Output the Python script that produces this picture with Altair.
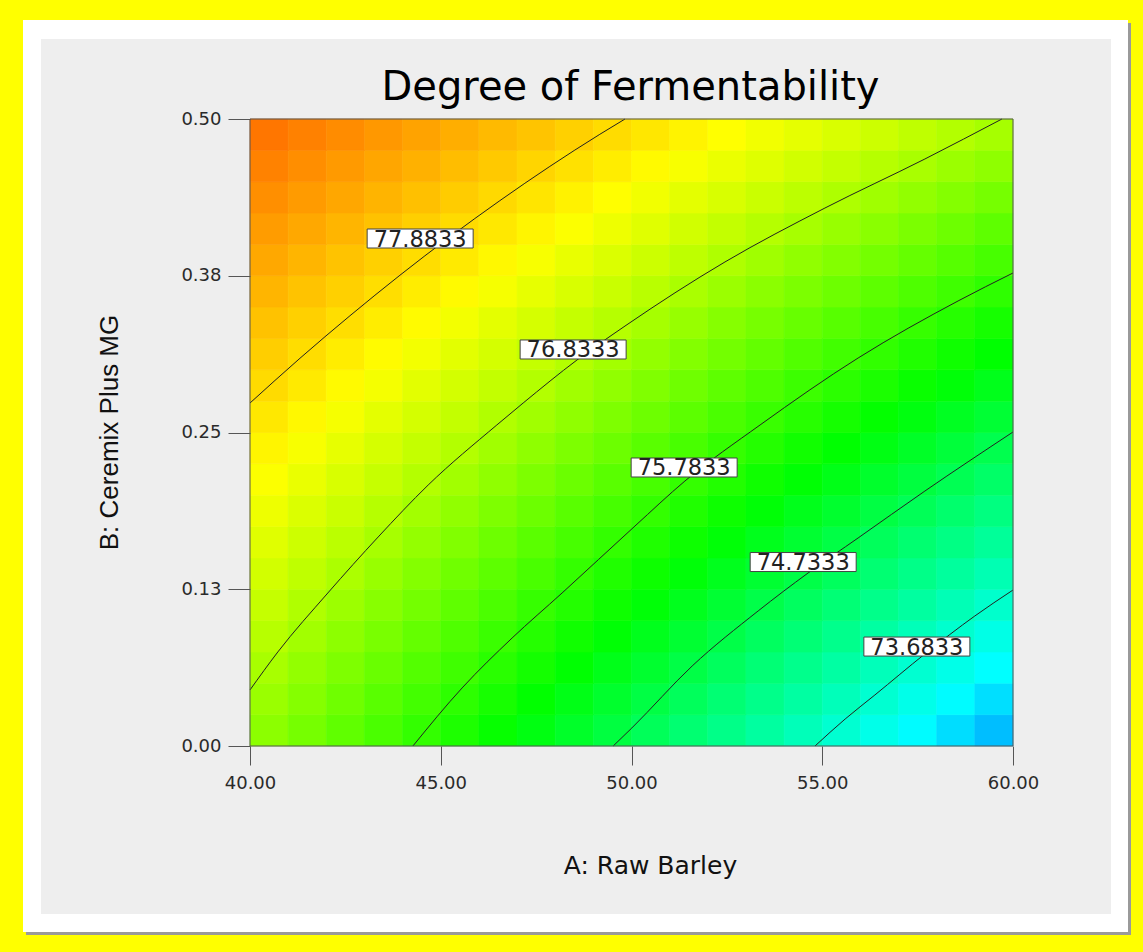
import altair as alt
import pandas as pd

TITLE = "Degree of Fermentability"
X_TITLE = "A: Raw Barley"
Y_TITLE = "B: Ceremix Plus MG"

A_TICKS = [40, 45, 50, 55, 60]
B_TICKS = [0.0, 0.125, 0.25, 0.375, 0.5]

# heat-map cell centres (A: Raw Barley, B: Ceremix Plus MG)
A_CENTERS = [40.5, 41.5, 42.5, 43.5, 44.5, 45.5, 46.5, 47.5, 48.5, 49.5,
             50.5, 51.5, 52.5, 53.5, 54.5, 55.5, 56.5, 57.5, 58.5, 59.5]
B_CENTERS = [0.0125, 0.0375, 0.0625, 0.0875, 0.1125, 0.1375, 0.1625, 0.1875, 0.2125, 0.2375,
             0.2625, 0.2875, 0.3125, 0.3375, 0.3625, 0.3875, 0.4125, 0.4375, 0.4625, 0.4875]
A_HALF = 0.5
B_HALF = 0.0125

# response values, one row per B centre (bottom to top)
GRID = [
    [76.56, 76.37, 76.18, 75.99, 75.79, 75.60, 75.40, 75.21, 75.01, 74.82, 74.62, 74.42, 74.23, 74.03, 73.83, 73.63, 73.43, 73.23, 73.03, 72.83],
    [76.68, 76.50, 76.31, 76.12, 75.93, 75.74, 75.55, 75.36, 75.17, 74.98, 74.79, 74.60, 74.40, 74.21, 74.02, 73.82, 73.63, 73.43, 73.23, 73.04],
    [76.80, 76.62, 76.44, 76.26, 76.07, 75.89, 75.70, 75.52, 75.33, 75.14, 74.96, 74.77, 74.58, 74.39, 74.20, 74.01, 73.82, 73.63, 73.44, 73.25],
    [76.93, 76.75, 76.57, 76.39, 76.21, 76.03, 75.85, 75.67, 75.49, 75.31, 75.12, 74.94, 74.76, 74.57, 74.39, 74.20, 74.02, 73.83, 73.65, 73.46],
    [77.05, 76.87, 76.70, 76.52, 76.35, 76.17, 76.00, 75.82, 75.65, 75.47, 75.29, 75.11, 74.93, 74.75, 74.57, 74.39, 74.21, 74.03, 73.85, 73.67],
    [77.16, 77.00, 76.83, 76.66, 76.49, 76.32, 76.15, 75.98, 75.80, 75.63, 75.46, 75.28, 75.11, 74.94, 74.76, 74.58, 74.41, 74.23, 74.06, 73.88],
    [77.28, 77.12, 76.96, 76.79, 76.63, 76.46, 76.29, 76.13, 75.96, 75.79, 75.62, 75.46, 75.29, 75.12, 74.95, 74.78, 74.60, 74.43, 74.26, 74.09],
    [77.40, 77.24, 77.09, 76.92, 76.76, 76.60, 76.44, 76.28, 76.12, 75.95, 75.79, 75.63, 75.46, 75.30, 75.13, 74.97, 74.80, 74.63, 74.46, 74.30],
    [77.52, 77.37, 77.21, 77.06, 76.90, 76.75, 76.59, 76.43, 76.27, 76.12, 75.96, 75.80, 75.64, 75.48, 75.32, 75.16, 74.99, 74.83, 74.67, 74.50],
    [77.64, 77.49, 77.34, 77.19, 77.04, 76.89, 76.74, 76.58, 76.43, 76.28, 76.12, 75.97, 75.81, 75.66, 75.50, 75.34, 75.19, 75.03, 74.87, 74.71],
    [77.76, 77.61, 77.47, 77.32, 77.18, 77.03, 76.88, 76.74, 76.59, 76.44, 76.29, 76.14, 75.99, 75.84, 75.69, 75.53, 75.38, 75.23, 75.07, 74.92],
    [77.88, 77.74, 77.60, 77.46, 77.31, 77.17, 77.03, 76.89, 76.74, 76.60, 76.45, 76.31, 76.16, 76.02, 75.87, 75.72, 75.58, 75.43, 75.28, 75.13],
    [78.00, 77.86, 77.72, 77.59, 77.45, 77.31, 77.18, 77.04, 76.90, 76.76, 76.62, 76.48, 76.34, 76.20, 76.05, 75.91, 75.77, 75.63, 75.48, 75.34],
    [78.11, 77.98, 77.85, 77.72, 77.59, 77.45, 77.32, 77.19, 77.05, 76.92, 76.78, 76.65, 76.51, 76.38, 76.24, 76.10, 75.96, 75.82, 75.68, 75.54],
    [78.23, 78.10, 77.98, 77.85, 77.72, 77.60, 77.47, 77.34, 77.21, 77.08, 76.95, 76.82, 76.69, 76.55, 76.42, 76.29, 76.15, 76.02, 75.89, 75.75],
    [78.35, 78.23, 78.10, 77.98, 77.86, 77.74, 77.61, 77.49, 77.36, 77.24, 77.11, 76.99, 76.86, 76.73, 76.60, 76.48, 76.35, 76.22, 76.09, 75.96],
    [78.46, 78.35, 78.23, 78.11, 77.99, 77.88, 77.76, 77.64, 77.52, 77.40, 77.28, 77.15, 77.03, 76.91, 76.79, 76.66, 76.54, 76.41, 76.29, 76.16],
    [78.58, 78.47, 78.36, 78.24, 78.13, 78.02, 77.90, 77.79, 77.67, 77.56, 77.44, 77.32, 77.21, 77.09, 76.97, 76.85, 76.73, 76.61, 76.49, 76.37],
    [78.70, 78.59, 78.48, 78.37, 78.27, 78.16, 78.05, 77.94, 77.83, 77.72, 77.60, 77.49, 77.38, 77.27, 77.15, 77.04, 76.92, 76.81, 76.69, 76.58],
    [78.81, 78.71, 78.61, 78.50, 78.40, 78.30, 78.19, 78.09, 77.98, 77.87, 77.77, 77.66, 77.55, 77.44, 77.33, 77.22, 77.11, 77.00, 76.89, 76.78],
]

# contour lines
LEVELS = ["77.8833", "76.8333", "75.7833", "74.7333", "73.6833"]
C1_A = [40.00, 41.31, 42.62, 43.93, 45.24, 46.55, 47.86, 49.17, 49.83]
C1_B = [0.2735, 0.3092, 0.3431, 0.3754, 0.4060, 0.4349, 0.4622, 0.4878, 0.5000]
C2_A = [40.00, 40.73, 42.04, 43.36, 44.67, 46.47, 47.16, 48.57, 49.83, 52.45, 55.07, 57.69, 59.71]
C2_B = [0.0447, 0.0750, 0.1220, 0.1667, 0.2081, 0.2560, 0.2735, 0.3078, 0.3349, 0.3860, 0.4290, 0.4681, 0.5000]
C3_A = [44.27, 45.56, 46.87, 48.18, 50.09, 51.40, 53.37, 55.94, 58.56, 60.00]
C3_B = [0.0000, 0.0463, 0.0861, 0.1220, 0.1754, 0.2113, 0.2560, 0.3094, 0.3549, 0.3772]
C4_A = [49.52, 50.01, 51.59, 53.32, 54.63, 55.94, 57.69, 60.00]
C4_B = [0.0000, 0.0144, 0.0638, 0.1077, 0.1380, 0.1659, 0.2033, 0.2504]
C5_A = [54.81, 55.60, 56.38, 57.69, 59.00, 60.00]
C5_B = [0.0000, 0.0215, 0.0407, 0.0734, 0.1037, 0.1244]

LABEL_A = [44.46, 48.47, 51.38, 54.50, 57.48]
LABEL_B = [0.4047, 0.3162, 0.2221, 0.1467, 0.0793]

COLOR_DOMAIN = [71.6, 73.25, 75.35, 77.55, 79.9]
COLOR_RANGE = ["#0000ff", "#00ffff", "#00ff00", "#ffff00", "#ff0000"]

# ---------------------------------------------------------------- tables
cells = pd.DataFrame([
    {"A0": a - A_HALF, "A1": a + A_HALF, "B0": b - B_HALF, "B1": b + B_HALF, "F": GRID[j][i]}
    for j, b in enumerate(B_CENTERS) for i, a in enumerate(A_CENTERS)
])

line_rows = []
for lev, xa, yb in zip(LEVELS, [C1_A, C2_A, C3_A, C4_A, C5_A], [C1_B, C2_B, C3_B, C4_B, C5_B]):
    for k, (x, y) in enumerate(zip(xa, yb)):
        line_rows.append({"level": lev, "k": k, "A": x, "B": y})
lines_df = pd.DataFrame(line_rows)

labels_df = pd.DataFrame({"A": LABEL_A, "B": LABEL_B, "label": LEVELS})
one = pd.DataFrame({"k": [0]})

W, H = 763, 627
FONT = "DejaVu Sans"

xs = alt.Scale(domain=[40, 60], nice=False, zero=False)
ys = alt.Scale(domain=[0, 0.5], nice=False, zero=False)
cscale = alt.Scale(domain=COLOR_DOMAIN, range=COLOR_RANGE, interpolate="rgb")

x_axis = alt.Axis(
    values=A_TICKS, format=".2f", grid=False, domain=False,
    tickSize=19, tickColor="#555555", tickWidth=1,
    labelFont=FONT, labelFontSize=18, labelColor="#2a2a2a", labelPadding=9,
    labelFlush=False, labelOverlap=False,
    title=X_TITLE, titleFont=FONT, titleFontSize=25, titleFontWeight="normal",
    titleColor="#111111", titleX=400, titleY=127, titleBaseline="alphabetic",
    titleAlign="center", zindex=1,
)
y_axis = alt.Axis(
    values=B_TICKS, format=".2f", grid=False, domain=False,
    tickSize=22, tickColor="#555555", tickWidth=1,
    labelFont=FONT, labelFontSize=18, labelColor="#2a2a2a", labelPadding=7,
    labelFlush=False, labelOverlap=False,
    title=Y_TITLE, titleFont="Liberation Sans", titleFontSize=26, titleFontWeight="normal",
    titleColor="#111111", titleAngle=270, titleX=-133, titleY=313,
    titleBaseline="alphabetic", titleAlign="center", zindex=1,
)

def X(field):
    return alt.X(field, scale=xs, axis=x_axis)

def Y(field):
    return alt.Y(field, scale=ys, axis=y_axis)

shadow = alt.Chart(one).mark_rect(color="#9a9a9a").encode(
    x=alt.value(-224), x2=alt.value(881), y=alt.value(-96), y2=alt.value(816))
white = alt.Chart(one).mark_rect(color="#ffffff").encode(
    x=alt.value(-227), x2=alt.value(878), y=alt.value(-99), y2=alt.value(813))
gray = alt.Chart(one).mark_rect(color="#eeeeee").encode(
    x=alt.value(-209), x2=alt.value(861), y=alt.value(-80), y2=alt.value(795))

title_mark = alt.Chart(one).mark_text(
    font=FONT, fontSize=40, color="#000000", align="center", baseline="alphabetic",
).encode(x=alt.value(W / 2 - 1), y=alt.value(-19), text=alt.value(TITLE))

heat = alt.Chart(cells).mark_rect(strokeWidth=0.6).encode(
    x=X("A0:Q"),
    x2="A1:Q",
    y=Y("B0:Q"),
    y2="B1:Q",
    color=alt.Color("F:Q", scale=cscale, legend=None),
    stroke=alt.Stroke("F:Q", scale=cscale, legend=None),
)

contours = alt.Chart(lines_df).mark_line(color="#222222", strokeWidth=1, interpolate="monotone").encode(
    x=X("A:Q"),
    y=Y("B:Q"),
    detail="level:N",
    order="k:Q",
)

border = alt.Chart(one).mark_rect(fillOpacity=0, stroke="#555555", strokeWidth=1).encode(
    x=alt.value(0), x2=alt.value(W), y=alt.value(0), y2=alt.value(H))

boxes = alt.Chart(labels_df).mark_rect(
    fill="#ffffff", stroke="#444444", strokeWidth=1,
    xOffset=-53, x2Offset=53, yOffset=-9.5, y2Offset=9.5,
).encode(
    x=X("A:Q"), x2="A:Q",
    y=Y("B:Q"), y2="B:Q",
)

texts = alt.Chart(labels_df).mark_text(
    font=FONT, fontSize=22.5, color="#222222", align="center", baseline="alphabetic", dy=8,
).encode(
    x=X("A:Q"),
    y=Y("B:Q"),
    text="label:N",
)

chart = alt.layer(shadow, white, gray, title_mark, heat, contours, border, boxes, texts).properties(
    width=W, height=H,
    background="#ffff00",
    padding={"left": 250, "top": 119, "right": 130, "bottom": 206},
    autosize=alt.AutoSizeParams(type="none"),
).configure_view(strokeWidth=0)

chart.save("out.html", embed_options={"renderer": "svg", "actions": False})
